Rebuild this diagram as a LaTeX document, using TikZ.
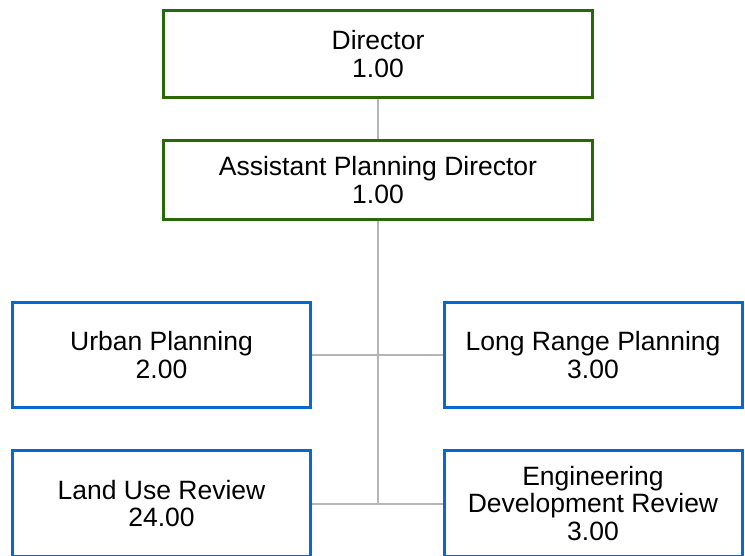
\documentclass[tikz,border=0pt]{standalone}
\usepackage{fontspec}
\setmainfont{Liberation Sans}
\definecolor{mgrgreen}{RGB}{40,104,8}
\definecolor{unitblue}{RGB}{8,104,206}
\definecolor{linkgray}{RGB}{182,182,182}
\tikzset{
  mgr/.style={draw=mgrgreen,line width=3pt,fill=white,align=center,inner sep=0pt,
    minimum width=429pt,font=\fontsize{26.5}{27.3}\selectfont},
  unit/.style={draw=unitblue,line width=3pt,fill=white,align=center,inner sep=0pt,
    minimum width=298pt,font=\fontsize{26.5}{27.3}\selectfont},
  link/.style={draw=linkgray,line width=2pt}
}
\begin{document}
\begin{tikzpicture}[x=1pt,y=-1pt]
\useasboundingbox (0,0) rectangle (745,556);
\node[mgr,minimum height=87pt] (dir) at (378,54) {Director\\1.00};
\node[mgr,minimum height=79pt] (apd) at (378,180) {Assistant Planning Director\\1.00};
\node[unit,minimum height=105pt] (urban) at (161.5,355) {Urban Planning\\2.00};
\node[unit,minimum height=105pt] (longr) at (593,355) {Long Range Planning\\3.00};
\node[unit,minimum height=106pt] (landuse) at (161.5,503.5) {Land Use Review\\24.00};
\node[unit,minimum height=106pt] (eng) at (593,503.5) {Engineering\\Development Review\\3.00};
% connectors
\draw[link] (dir) -- (apd);
\draw[link] (apd.south) -- (apd.south |- landuse.east);
\draw[link] (urban) -- (longr);
\draw[link] (landuse) -- (eng);
\end{tikzpicture}
\end{document}
